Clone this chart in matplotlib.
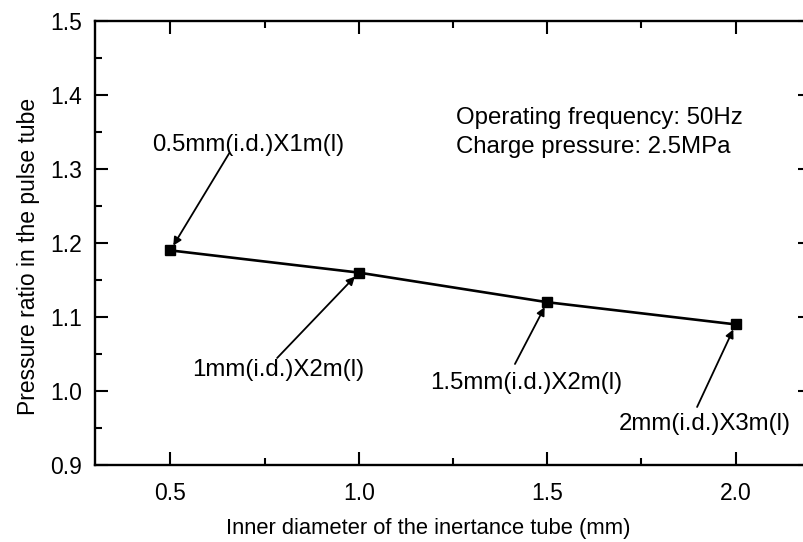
import matplotlib
matplotlib.use("Agg")
import matplotlib.pyplot as plt
from matplotlib.ticker import MultipleLocator

plt.rcParams['font.family'] = ['Liberation Sans', 'DejaVu Sans']

# Data
diameters = [0.5, 1.0, 1.5, 2.0]
pressure_ratio = [1.19, 1.16, 1.12, 1.09]
point_labels = ["0.5mm(i.d.)X1m(l)", "1mm(i.d.)X2m(l)", "1.5mm(i.d.)X2m(l)", "2mm(i.d.)X3m(l)"]
x_ticks = [0.5, 1.0, 1.5, 2.0]
y_ticks = [0.9, 1.0, 1.1, 1.2, 1.3, 1.4, 1.5]
info_lines = ["Operating frequency: 50Hz", "Charge pressure: 2.5MPa"]

# Label placement (data coords): text center/baseline, arrow tail
label_pos = [(0.707, 1.324), (0.786, 1.020), (1.4435, 1.0027), (1.9175, 0.9473)]
arrow_tail = [(0.6565, 1.3216), (0.7833, 1.0446), (1.4144, 1.0365), (1.8977, 0.9784)]

fig = plt.figure(figsize=(8.04, 5.42), dpi=100)
ax = fig.add_axes([95/804, 1-465/542, (811-95)/804, (465-21)/542])

ax.plot(diameters, pressure_ratio, color='black', lw=1.9, marker='s', markersize=6.5,
        markerfacecolor='black', markeredgecolor='black', zorder=3)

for lab, (tx, ty), (ax_, ay), px, py in zip(point_labels, label_pos, arrow_tail, diameters, pressure_ratio):
    ax.text(tx, ty, lab, ha='center', va='baseline', fontsize=17.3)
    ax.annotate("", xy=(px, py), xytext=(ax_, ay),
                arrowprops=dict(arrowstyle='-|>', color='black', lw=1.3,
                                mutation_scale=12, shrinkA=0, shrinkB=4))

ax.text(1.2586, 1.3608, info_lines[0], ha='left', va='baseline', fontsize=17.3)
ax.text(1.2586, 1.3216, info_lines[1], ha='left', va='baseline', fontsize=17.3)

ax.set_xlim(0.3, 2.2)
ax.set_ylim(0.9, 1.5)
ax.set_xticks(x_ticks)
ax.set_yticks(y_ticks)
ax.set_xticklabels([f"{v:.1f}" for v in x_ticks])
ax.set_yticklabels([f"{v:.1f}" for v in y_ticks])
ax.xaxis.set_minor_locator(MultipleLocator(0.25))
ax.yaxis.set_minor_locator(MultipleLocator(0.05))

ax.tick_params(which='both', direction='in', top=True, right=True, width=1.5, labelsize=16.5)
ax.tick_params(which='major', length=9.5)
ax.tick_params(which='minor', length=5)
ax.tick_params(axis='x', which='major', pad=12)
ax.tick_params(axis='y', which='major', pad=9)
for s in ax.spines.values():
    s.set_linewidth(1.7)

ax.set_xlabel("Inner diameter of the inertance tube (mm)", fontsize=15.8)
ax.xaxis.set_label_coords((428-95)/716, -0.12)
fig.text(29/804, 1-256/542, "Pressure ratio in the pulse tube", rotation=90,
         ha='center', va='center', fontsize=16.5)

fig.savefig("out.png", dpi=100)
